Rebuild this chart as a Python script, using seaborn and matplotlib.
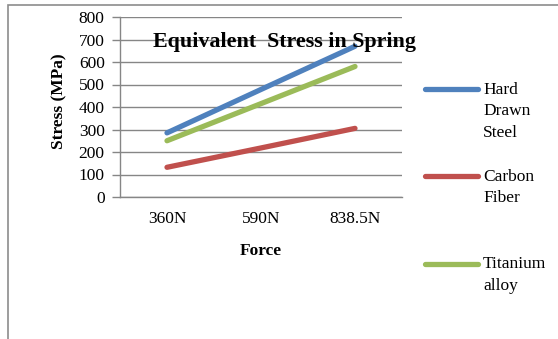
import matplotlib
matplotlib.use("Agg")
import matplotlib.pyplot as plt
from matplotlib.patches import Rectangle
from matplotlib.lines import Line2D
import pandas as pd
import seaborn as sns

# Equivalent stress (MPa) for three spring materials at three loads
forces = ["360N", "590N", "838.5N"]
materials = ["Hard Drawn Steel", "Carbon Fiber", "Titanium alloy"]
legend_labels = ["Hard\nDrawn\nSteel", "Carbon\nFiber", "Titanium\nalloy"]
hard_drawn_steel = [285, 478, 670]
carbon_fiber = [132, 218, 305]
titanium_alloy = [250, 415, 580]
yticks = [0, 100, 200, 300, 400, 500, 600, 700, 800]
colors = ["#4F81BD", "#C0504D", "#9BBB59"]

df = pd.DataFrame({
    "Force": forces * 3,
    "Stress": hard_drawn_steel + carbon_fiber + titanium_alloy,
    "Material": [m for m in materials for _ in forces],
})

sns.set_theme(style="white")
plt.rcParams["font.family"] = ["Liberation Serif", "DejaVu Serif"]

W, H = 558, 339
fig = plt.figure(figsize=(W / 100, H / 100), dpi=100)
fig.patch.set_facecolor("white")


def fx(px):
    return px / W


def fy(py):
    return 1 - py / H


# outer chart frame
fig.add_artist(Rectangle((fx(8), fy(5) - 2), 2, 2, transform=fig.transFigure,
                         fill=False, edgecolor="#8c8c8c", linewidth=1.2))

ax = fig.add_axes([fx(120), fy(197), fx(402) - fx(120), fy(17) - fy(197)])

sns.lineplot(data=df, x="Force", y="Stress", hue="Material", hue_order=materials,
             palette=colors, sort=False, legend=False, linewidth=3.8, ax=ax,
             solid_capstyle="round")

grid_c = "#868686"
ax.set_xlim(-0.5, 2.5)
ax.set_ylim(0, 800)
ax.set_yticks(yticks)
ax.set_yticklabels([str(v) for v in yticks])
ax.yaxis.grid(True, color=grid_c, linewidth=1.0)
ax.xaxis.grid(False)
ax.set_axisbelow(True)
for side in ["top", "right"]:
    ax.spines[side].set_visible(False)
for side in ["left", "bottom"]:
    ax.spines[side].set_color(grid_c)
    ax.spines[side].set_linewidth(1.0)
ax.tick_params(axis="y", left=True, length=6, width=1.0, color=grid_c,
               pad=5, labelsize=12.5, labelcolor="black")
ax.tick_params(axis="x", bottom=False, length=0, pad=10, labelsize=12.5,
               labelcolor="black")

ax.set_xlabel("Force", fontsize=12.5, fontweight="bold", color="black")
ax.xaxis.set_label_coords(0.5, -0.255)
ax.set_ylabel("Stress (MPa)", fontsize=12.5, fontweight="bold", color="black")
ax.yaxis.set_label_coords(-0.187, 0.53)

fig.text(fx(153), fy(47), "Equivalent  Stress in Spring", fontsize=15.8,
         fontweight="bold", color="black", ha="left", va="baseline")

# legend keys on the right, each aligned with the first line of its label
key_rows = [89, 176, 264]
for line, label, row in zip(ax.lines, legend_labels, key_rows):
    fig.add_artist(Line2D([fx(425), fx(478)], [fy(row), fy(row)],
                          transform=fig.transFigure, color=line.get_color(),
                          linewidth=3.8, solid_capstyle="round"))
    fig.text(fx(483), fy(row - 7.5), label, fontsize=12.5, color="black",
             ha="left", va="top", linespacing=1.48)

fig.savefig("out.png", dpi=100, facecolor="white")
